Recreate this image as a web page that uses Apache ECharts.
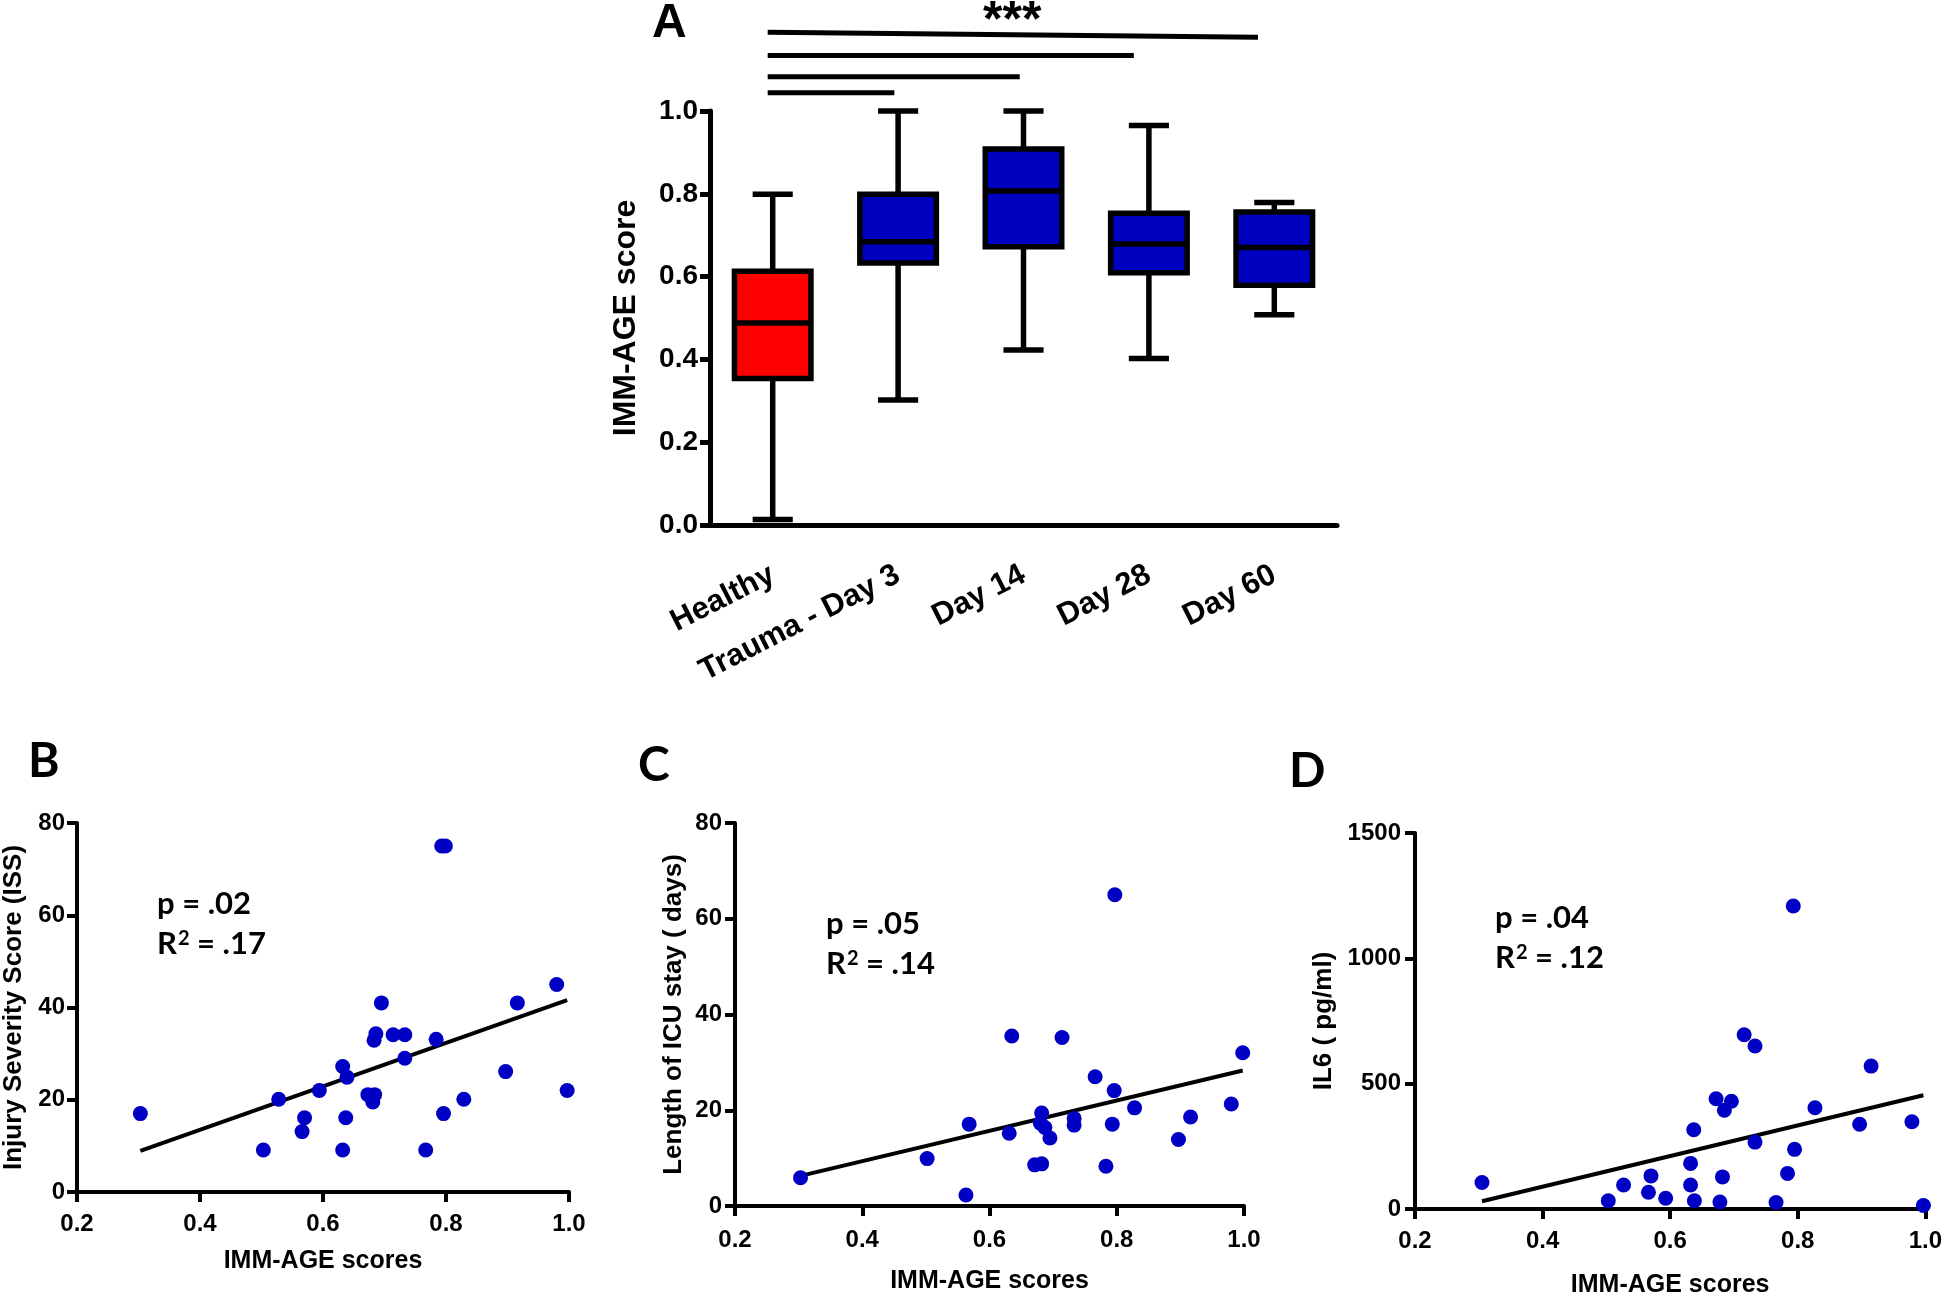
<!DOCTYPE html>
<html><head><meta charset="utf-8">
<script src="https://cdn.jsdelivr.net/npm/echarts@6/dist/echarts.min.js"></script>
<style>html,body{margin:0;padding:0;background:#fff}#c{width:1945px;height:1299px}</style>
</head><body><div id="c"></div>
<script>
// ---------- Panel A data ----------
const categories = ['Healthy', 'Trauma - Day 3', 'Day 14', 'Day 28', 'Day 60'];
const boxMin    = [0.013, 0.302, 0.423, 0.402, 0.508];
const boxQ1     = [0.354, 0.633, 0.672, 0.609, 0.579];
const boxMedian = [0.488, 0.684, 0.807, 0.679, 0.670];
const boxQ3     = [0.613, 0.799, 0.908, 0.753, 0.756];
const boxMax    = [0.799, 1.000, 1.000, 0.965, 0.779];
const boxColors = ['#ff0000', '#0000c0', '#0000c0', '#0000c0', '#0000c0'];
// significance bars (category positions, score levels)
const sigFrom       = [-0.04, -0.04, -0.04, -0.04];
const sigTo         = [0.97, 1.97, 2.88, 3.87];
const sigLevelStart = [1.044, 1.083, 1.134, 1.190];
const sigLevelEnd   = [1.044, 1.083, 1.134, 1.178];
const sigStarPos    = [1.91, 1.215];
const sigStarText   = '***';
const yTicksA = [0, 1, 0.2];

// ---------- Panel B: ISS ----------
const issX = [0.303,0.503,0.528,0.566,0.570,0.594,0.632,0.632,0.639,0.637,0.673,0.681,0.684,0.683,0.686,0.695,0.714,0.733,0.733,0.767,0.784,0.793,0.799,0.796,0.829,0.897,0.916,0.980,0.997];
const issY = [17,9.1,20.1,13.1,16.1,22,9.1,27.2,24.9,16.1,21.1,19.5,21.1,32.9,34.3,41,34.1,34.1,29,9.1,33.1,75,75,17,20.1,26.1,41,45,22];
const fitBX = [0.303, 0.997];
const fitBY = [8.9, 41.6];

// ---------- Panel C: ICU stay ----------
const icuX = [0.303,0.502,0.563,0.568,0.631,0.635,0.671,0.682,0.682,0.680,0.687,0.695,0.714,0.733,0.733,0.766,0.783,0.793,0.796,0.797,0.828,0.897,0.916,0.980,0.998];
const icuY = [5.9,9.9,2.3,17.1,15.2,35.5,8.6,8.8,19.4,17.3,16.4,14.2,35.2,18.3,16.9,27.0,8.3,17.1,24.1,65.0,20.5,13.9,18.6,21.3,32.0];
const fitCX = [0.303, 0.998];
const fitCY = [6.3, 28.3];

// ---------- Panel D: IL6 ----------
const il6X = [0.305,0.503,0.527,0.566,0.570,0.593,0.632,0.632,0.637,0.638,0.672,0.678,0.682,0.685,0.696,0.716,0.733,0.733,0.766,0.784,0.793,0.795,0.827,0.897,0.915,0.979,0.997];
const il6Y = [106,33,96,67,132,43,182,96,316,33,440,28,128,394,430,695,267,650,26,142,1209,238,404,338,570,348,14];
const fitDX = [0.305, 0.997];
const fitDY = [31, 454];

const statsP  = ['p = .02', 'p = .05', 'p = .04'];
const statsR2 = [' = .17', ' = .14', ' = .12'];

// ---------- styling ----------
const AR = "'Liberation Sans', Arial, sans-serif";
const CAL = "Lato, 'Open Sans', sans-serif";
const zip = (a, b) => a.map((v, i) => [v, b[i]]);

function valAxis(grid, min, max, interval, name, opt) {
  return {
    type: 'value', gridIndex: grid, min, max, interval,
    name, nameLocation: 'middle', nameGap: opt.nameGap,
    nameTextStyle: { fontFamily: AR, fontWeight: 'bold', fontSize: opt.nameSize, color: '#000' },
    axisLine: { show: true, onZero: false, lineStyle: { color: '#000', width: opt.lw } },
    axisTick: { show: true, length: 10, lineStyle: { color: '#000', width: opt.lw } },
    axisLabel: { fontFamily: AR, fontWeight: 'bold', fontSize: opt.labelSize, color: '#000', margin: opt.margin,
      formatter: opt.fmt },
    splitLine: { show: false }
  };
}

const fmt1 = v => v.toFixed(1);
const fmt0 = v => String(Math.round(v));

function renderBox(params, api) {
  const i = api.value(0);
  const p = k => api.coord([i, api.value(k)]);
  const pMin = p(1);
  const cx = pMin[0], yMin = pMin[1];
  const yQ1 = p(2)[1], yMed = p(3)[1], yQ3 = p(4)[1], yMax = p(5)[1];
  const band = api.size([1, 0])[0];
  const bw = band * 0.61, cw = band * 0.32;
  const lw = 5.5;
  const line = (x1, y1, x2, y2) => ({ type: 'line', shape: { x1, y1, x2, y2 }, style: { stroke: '#000', lineWidth: lw } });
  return {
    type: 'group', children: [
      line(cx, yMax, cx, yQ3), line(cx, yQ1, cx, yMin),
      line(cx - cw / 2, yMax, cx + cw / 2, yMax), line(cx - cw / 2, yMin, cx + cw / 2, yMin),
      { type: 'rect', shape: { x: cx - bw / 2, y: yQ3, width: bw, height: yQ1 - yQ3 },
        style: { fill: boxColors[params.dataIndex], stroke: '#000', lineWidth: lw } },
      line(cx - bw / 2, yMed, cx + bw / 2, yMed)
    ]
  };
}

function catX(api, f) {
  const base = Math.round(f);
  const band = api.size([1, 0])[0];
  return api.coord([base, 0])[0] + (f - base) * band;
}

function renderSig(params, api) {
  const x1 = catX(api, api.value(2)), x2 = catX(api, api.value(3));
  const y1 = api.coord([0, api.value(1)])[1], y2 = api.coord([0, api.value(4)])[1];
  return { type: 'line', shape: { x1, y1, x2, y2 }, style: { stroke: '#000', lineWidth: 5 } };
}

function renderStar(params, api) {
  const x = catX(api, api.value(2));
  const y = api.coord([0, api.value(1)])[1];
  return { type: 'text', x, y, style: { text: sigStarText, fontFamily: AR, fontWeight: 'bold', fontSize: 50,
    fill: '#000', align: 'center', verticalAlign: 'middle' } };
}

function scatterSeries(idx, xs, ys) {
  return { type: 'scatter', xAxisIndex: idx, yAxisIndex: idx, data: zip(xs, ys), symbolSize: 15,
    itemStyle: { color: '#0000c4', opacity: 1 }, z: 3 };
}
function fitSeries(idx, xs, ys) {
  return { type: 'line', xAxisIndex: idx, yAxisIndex: idx, data: zip(xs, ys), showSymbol: false, symbol: 'none',
    lineStyle: { color: '#000', width: 4 }, z: 2 };
}
function statText(left, top, k) {
  return { type: 'text', left, top, style: {
    text: '{r|' + statsP[k] + '}\n{r|R}{s|2}{r|' + statsR2[k] + '}',
    fontFamily: CAL, fontWeight: 'bold', fontSize: 31, fill: '#000',
    rich: {
      r: { fontFamily: CAL, fontWeight: 'bold', fontSize: 31, lineHeight: 40, fill: '#000' },
      s: { fontFamily: CAL, fontWeight: 'bold', fontSize: 20, lineHeight: 22, verticalAlign: 'top', padding: [5, 0, 0, 1], fill: '#000' }
    } } };
}
function letter(left, top, t, fam) {
  return { type: 'text', left, top, style: { text: t, fontFamily: fam, fontWeight: 'bold', fontSize: 48, fill: '#000' } };
}

const chart = echarts.init(document.getElementById('c'), null, { renderer: 'canvas' });
chart.setOption({
  animation: false,
  backgroundColor: '#fff',
  grid: [
    { left: 710, top: 111, width: 627, height: 414 },
    { left: 71, top: 823, width: 498, height: 369 },
    { left: 735, top: 823, width: 509, height: 383 },
    { left: 1415, top: 833, width: 512, height: 383 }
  ],
  xAxis: [
    { type: 'category', gridIndex: 0, data: categories, boundaryGap: true,
      axisLine: { lineStyle: { color: '#000', width: 5 } },
      axisTick: { alignWithLabel: true, length: 12, lineStyle: { color: '#000', width: 5 } },
      axisLabel: { rotate: 27, interval: 0, fontFamily: AR, fontWeight: 'bold', fontSize: 31, color: '#000', margin: 48 } },
    valAxis(1, 0.2, 1.0, 0.2, 'IMM-AGE scores', { nameGap: 57, nameSize: 25, lw: 4, labelSize: 24, margin: 20, fmt: fmt1 }),
    valAxis(2, 0.2, 1.0, 0.2, 'IMM-AGE scores', { nameGap: 63, nameSize: 25, lw: 4, labelSize: 24, margin: 22, fmt: fmt1 }),
    valAxis(3, 0.2, 1.0, 0.2, 'IMM-AGE scores', { nameGap: 64, nameSize: 25, lw: 4, labelSize: 24, margin: 20, fmt: fmt1 })
  ],
  yAxis: [
    valAxis(0, yTicksA[0], yTicksA[1], yTicksA[2], 'IMM-AGE score', { nameGap: 68, nameSize: 32, lw: 5, labelSize: 28, margin: 12, fmt: fmt1 }),
    valAxis(1, 0, 80, 20, 'Injury Severity Score (ISS)', { nameGap: 50, nameSize: 26, lw: 4, labelSize: 24, margin: 12, fmt: fmt0 }),
    valAxis(2, 0, 80, 20, 'Length of ICU stay ( days)', { nameGap: 48, nameSize: 26, lw: 4, labelSize: 24, margin: 13, fmt: fmt0 }),
    valAxis(3, 0, 1500, 500, 'IL6 ( pg/ml)', { nameGap: 78, nameSize: 26, lw: 4, labelSize: 24, margin: 14, fmt: fmt0 })
  ],
  series: [
    { type: 'custom', xAxisIndex: 0, yAxisIndex: 0, clip: false, renderItem: renderBox,
      data: categories.map((c, i) => [i, boxMin[i], boxQ1[i], boxMedian[i], boxQ3[i], boxMax[i]]),
      encode: { x: 0, y: [1, 2, 3, 4, 5] } },
    { type: 'custom', xAxisIndex: 0, yAxisIndex: 0, clip: false, renderItem: renderSig,
      data: sigTo.map((t, i) => [0, sigLevelStart[i], sigFrom[i], t, sigLevelEnd[i]]),
      encode: { x: 0, y: 1 } },
    { type: 'custom', xAxisIndex: 0, yAxisIndex: 0, clip: false, renderItem: renderStar,
      data: [[0, sigStarPos[1], sigStarPos[0]]], encode: { x: 0, y: 1 } },
    fitSeries(1, fitBX, fitBY), scatterSeries(1, issX, issY),
    fitSeries(2, fitCX, fitCY), scatterSeries(2, icuX, icuY),
    fitSeries(3, fitDX, fitDY), scatterSeries(3, il6X, il6Y)
  ],
  graphic: [
    letter(652, 0, 'A', AR),
    letter(28, 738, 'B', CAL),
    letter(638, 742, 'C', CAL),
    letter(1289, 748, 'D', CAL),
    statText(157, 888, 0),
    statText(826, 908, 1),
    statText(1495, 902, 2)
  ]
});
</script></body></html>
